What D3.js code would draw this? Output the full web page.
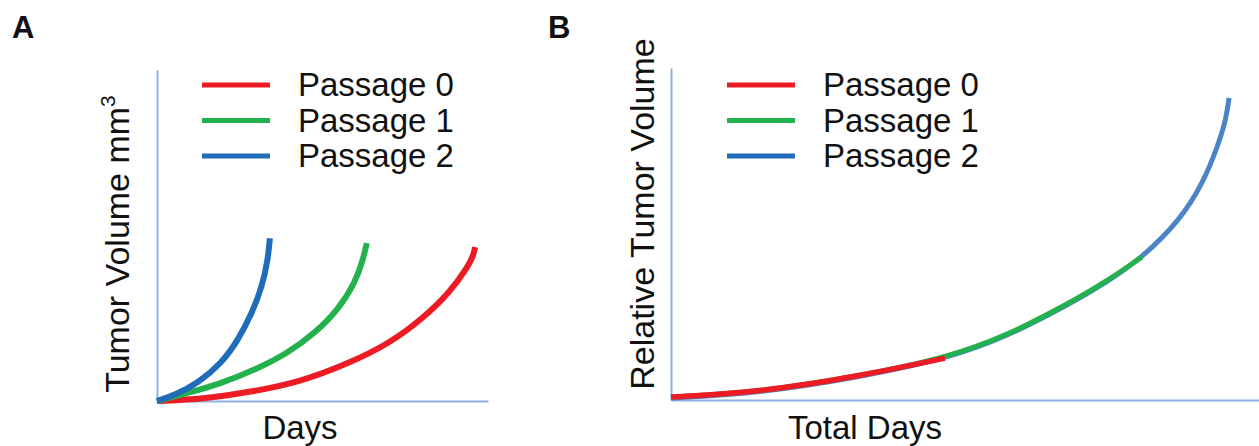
<!DOCTYPE html>
<html>
<head>
<meta charset="utf-8">
<script src="https://cdn.jsdelivr.net/npm/d3@7"></script>
<style>
  body { margin: 0; background: #fff; }
  text { font-family: Arial, "Liberation Sans", sans-serif; fill: #111; }
</style>
</head>
<body>
<svg id="chart" width="1259" height="446"></svg>
<script>
// series, in axis units (0..100 on both axes)
const passages = ["Passage 0", "Passage 1", "Passage 2"];
const colorsA = ["#ed1c24", "#22b14c", "#1f6db8"];
const colorsB = ["#ed1c24", "#22b14c", "#4a84c6"];

// panel A: growth per passage, each from day 0
const passage0 = [[0,0],[14,0.6],[28.1,2.7],[43.2,5.7],[58.3,11.5],[70.4,17.5],[80.4,25],[88.5,32.9],[93.7,40.2],[95.6,44],[96.1,46.5]];
const passage1 = [[0,0],[9.4,2.4],[19.6,5.4],[29.6,9.4],[39.6,14.5],[47.7,20.5],[54.7,27.5],[59.8,35.6],[62.2,42.6],[63.4,47.7]];
const passage2 = [[0,0],[5.4,1.8],[12.4,5.4],[19.6,11.5],[24.5,18.4],[28.7,26.6],[31.7,34.4],[33.5,42.6],[34.1,49.2]];

// panel B: relative volume over total days, passages chained
const relative0 = [[0,0.6],[15.1,2.1],[32.1,6.9],[46.6,12.3]];
const relative1 = [[46.6,12.3],[57.1,19],[68.4,29.5],[74.1,35.5],[80.1,42.8]];
const relative2 = [[80.1,42.8],[86.6,54.2],[90.5,65.4],[93,76.5],[94.4,84.5],[94.9,91]];

const svg = d3.select("#chart");

/**
 * Draws one panel: axes, axis labels and the panel letter
 */
function drawFrame(x, y, letter, letterX, xLabel, xLabelX, yLabel, yLabelX, yLabelY) {
    svg.append("g")
        .attr("transform", `translate(0,${y(0)})`)
        .call(d3.axisBottom(x).tickValues([]).tickSizeOuter(0));
    svg.append("g")
        .attr("transform", `translate(${x(0)},0)`)
        .call(d3.axisLeft(y).tickValues([]).tickSizeOuter(0));

    svg.append("text")
        .attr("x", letterX).attr("y", 38)
        .style("font-size", "31px").style("font-weight", "bold")
        .text(letter);

    svg.append("text")
        .attr("x", xLabelX).attr("y", 439)
        .attr("text-anchor", "middle")
        .style("font-size", "33px")
        .text(xLabel);

    let yl = svg.append("text")
        .attr("transform", `translate(${yLabelX},${yLabelY}) rotate(-90)`)
        .attr("text-anchor", "middle")
        .style("font-size", "34px");
    return yl.text(yLabel);
}

/**
 * Draws the legend: short coloured strokes and passage names
 */
function drawLegend(x0, colors) {
    let rows = svg.append("g").selectAll("g").data(passages).enter().append("g")
        .attr("transform", (d, i) => `translate(${x0},${85 + i * 35.5})`);
    rows.append("line")
        .attr("x1", 0).attr("x2", 68)
        .attr("stroke", (d, i) => colors[i])
        .attr("stroke-width", 5);
    rows.append("text")
        .attr("x", 96).attr("y", 11)
        .style("font-size", "33px")
        .text(d => d);
}

// ---- panel A
const xA = d3.scaleLinear().domain([0, 100]).range([157, 488]);
const yA = d3.scaleLinear().domain([0, 100]).range([401, 70]);
let labelA = drawFrame(xA, yA, "A", 12, "Days", 300, "Tumor Volume mm", 129, 244);
labelA.append("tspan").attr("dy", -14).style("font-size", "21px").text("3");

const lineA = d3.line().x(d => xA(d[0])).y(d => yA(d[1])).curve(d3.curveBasis);
svg.append("g").selectAll("path").data([passage0, passage1, passage2]).enter()
    .append("path")
    .attr("d", lineA)
    .attr("fill", "none")
    .attr("stroke", (d, i) => colorsA[i])
    .attr("stroke-width", 6);
drawLegend(202, colorsA);

// ---- panel B
const xB = d3.scaleLinear().domain([0, 100]).range([671, 1259]);
const yB = d3.scaleLinear().domain([0, 100]).range([400, 68]);
drawFrame(xB, yB, "B", 548, "Total Days", 865, "Relative Tumor Volume", 654, 214);

const lineB = d3.line().x(d => xB(d[0])).y(d => yB(d[1])).curve(d3.curveBasis);
// later passages lie under earlier ones, as in the figure
const whole = relative0.concat(relative1.slice(1), relative2.slice(1));
const upTo1 = relative0.concat(relative1.slice(1));
svg.append("path").datum(whole).attr("d", lineB)
    .attr("fill", "none").attr("stroke", colorsB[2]).attr("stroke-width", 5);
svg.append("path").datum(upTo1).attr("d", lineB)
    .attr("transform", "translate(0,-1)")
    .attr("fill", "none").attr("stroke", colorsB[1]).attr("stroke-width", 5);
svg.append("path").datum(relative0).attr("d", lineB)
    .attr("transform", "translate(0,-1)")
    .attr("fill", "none").attr("stroke", colorsB[0]).attr("stroke-width", 5.5);
drawLegend(727, ["#ed1c24", "#22b14c", "#1f6db8"]);

svg.selectAll(".domain").attr("stroke", "#8eb1e0").attr("stroke-width", 2);
</script>
</body>
</html>
